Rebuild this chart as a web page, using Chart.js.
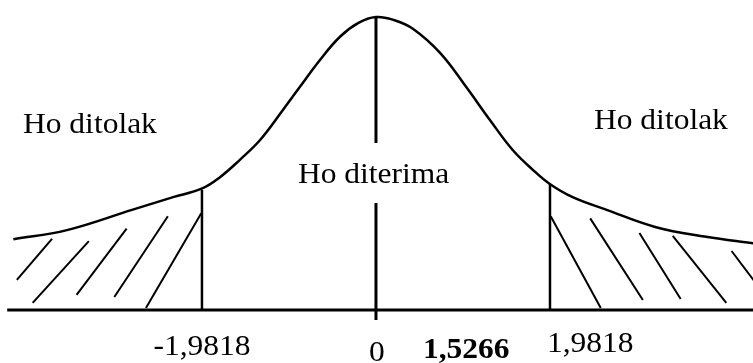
<!DOCTYPE html>
<html>
<head>
<meta charset="utf-8">
<script src="https://cdn.jsdelivr.net/npm/chart.js@4/dist/chart.umd.min.js"></script>
<style>
  html, body { margin: 0; padding: 0; background: #ffffff; }
  #wrap { width: 753px; height: 363px; position: relative; }
</style>
</head>
<body>
<div id="wrap"><canvas id="c" width="753" height="363"></canvas></div>
<script>
// t-distribution sketch: acceptance / rejection regions for a two-tailed test

// density curve (t value, height)
const curveT = [-4.13, -3.52, -2.77, -2.31, -1.98, -1.78, -1.55, -1.32, -1.06, -0.87, -0.64, -0.41, -0.20, 0,
                0.20, 0.42, 0.73, 1.03, 1.30, 1.56, 1.79, 1.98, 2.24, 2.62, 3.19, 3.76, 4.30];
const curveDensity = [0.0965, 0.109, 0.137, 0.154, 0.166, 0.181, 0.205, 0.232, 0.273, 0.304, 0.341, 0.373, 0.392, 0.400,
                      0.396, 0.384, 0.351, 0.304, 0.259, 0.218, 0.191, 0.172, 0.154, 0.137, 0.113, 0.100, 0.091];

// critical values and the test statistic
const criticalValues = [-1.9818, 1.9818];
const criticalHeights = [0.164, 0.172];
const tStatistic = 1.5266;

// tick labels under the axis
const tickLabels = ['-1,9818', '0', '1,9818'];
const statLabel = '1,5266';

// region captions
const regionLabels = ['Ho ditolak', 'Ho diterima', 'Ho ditolak'];

// hatching in the rejection tails: [t1, y1, t2, y2]
const leftHatch = [
  [-4.09, 0.041, -3.69, 0.097],
  [-3.91, 0.0096, -3.27, 0.094],
  [-3.41, 0.0205, -2.84, 0.111],
  [-2.98, 0.0177, -2.37, 0.128],
  [-2.62, 0.0027, -1.99, 0.132]
];
const rightHatch = [
  [1.99, 0.128, 2.56, 0.0027],
  [2.44, 0.125, 3.04, 0.0137],
  [3.00, 0.105, 3.47, 0.015],
  [3.38, 0.101, 3.99, 0.0096],
  [4.05, 0.0805, 4.40, 0.025]
];

// centre line pieces, broken around the caption
const centerSegments = [[0.400, 0.228], [0.146, -0.0137]];

const ink = '#000000';

function seg(points, width) {
  return {
    type: 'line',
    data: points,
    borderColor: ink,
    borderWidth: width,
    pointRadius: 0,
    fill: false,
    tension: 0,
    borderCapStyle: 'butt'
  };
}

const datasets = [];

// curve
datasets.push({
  type: 'line',
  data: curveT.map((t, i) => ({ x: t, y: curveDensity[i] })),
  borderColor: ink,
  borderWidth: 2.5,
  pointRadius: 0,
  fill: false,
  tension: 0.4
});

// horizontal axis
datasets.push(seg([{ x: -4.20, y: 0 }, { x: 4.40, y: 0 }], 3));

// critical value lines
criticalValues.forEach((v, i) => {
  datasets.push(seg([{ x: v, y: criticalHeights[i] }, { x: v, y: 0 }], 2.5));
});

// centre line
centerSegments.forEach(s => {
  datasets.push(seg([{ x: 0, y: s[0] }, { x: 0, y: s[1] }], 3));
});

// hatching
leftHatch.concat(rightHatch).forEach(h => {
  datasets.push(seg([{ x: h[0], y: h[1] }, { x: h[2], y: h[3] }], 2));
});

// caption and tick text
const textPlugin = {
  id: 'captions',
  afterDatasetsDraw(chart) {
    const ctx = chart.ctx;
    const xs = chart.scales.x;
    const ys = chart.scales.y;
    const put = (txt, x, y, bold, align) => {
      ctx.save();
      ctx.font = (bold ? 'bold ' : '') + '30px "Liberation Serif", "Times New Roman", serif';
      ctx.fillStyle = ink;
      ctx.textBaseline = 'alphabetic';
      ctx.textAlign = align || 'left';
      ctx.translate(x, y);
      ctx.scale(1.05, 1);
      ctx.fillText(txt, 0, 0);
      ctx.restore();
    };
    const base = ys.getPixelForValue(0);

    // region captions
    put(regionLabels[0], 23, 133);
    put(regionLabels[1], xs.getPixelForValue(0) - 78, 183);
    put(regionLabels[2], 594, 129);

    // axis labels
    put(tickLabels[0], xs.getPixelForValue(criticalValues[0]), base + 45, false, 'center');
    put(tickLabels[1], xs.getPixelForValue(0) + 1, base + 51, false, 'center');
    put(tickLabels[2], xs.getPixelForValue(criticalValues[1]) - 3, base + 42, false, 'left');

    // test statistic, set in bold beside the zero mark
    put(statLabel, xs.getPixelForValue(0) + 47, base + 48, true, 'left');
  }
};

new Chart(document.getElementById('c'), {
  type: 'line',
  data: { datasets },
  options: {
    responsive: false,
    animation: false,
    events: [],
    layout: { padding: 0 },
    plugins: { legend: { display: false }, tooltip: { enabled: false } },
    scales: {
      x: { type: 'linear', min: -4.282, max: 4.294, display: false },
      y: { type: 'linear', min: -0.0724, max: 0.4232, display: false }
    }
  },
  plugins: [textPlugin]
});
</script>
</body>
</html>
